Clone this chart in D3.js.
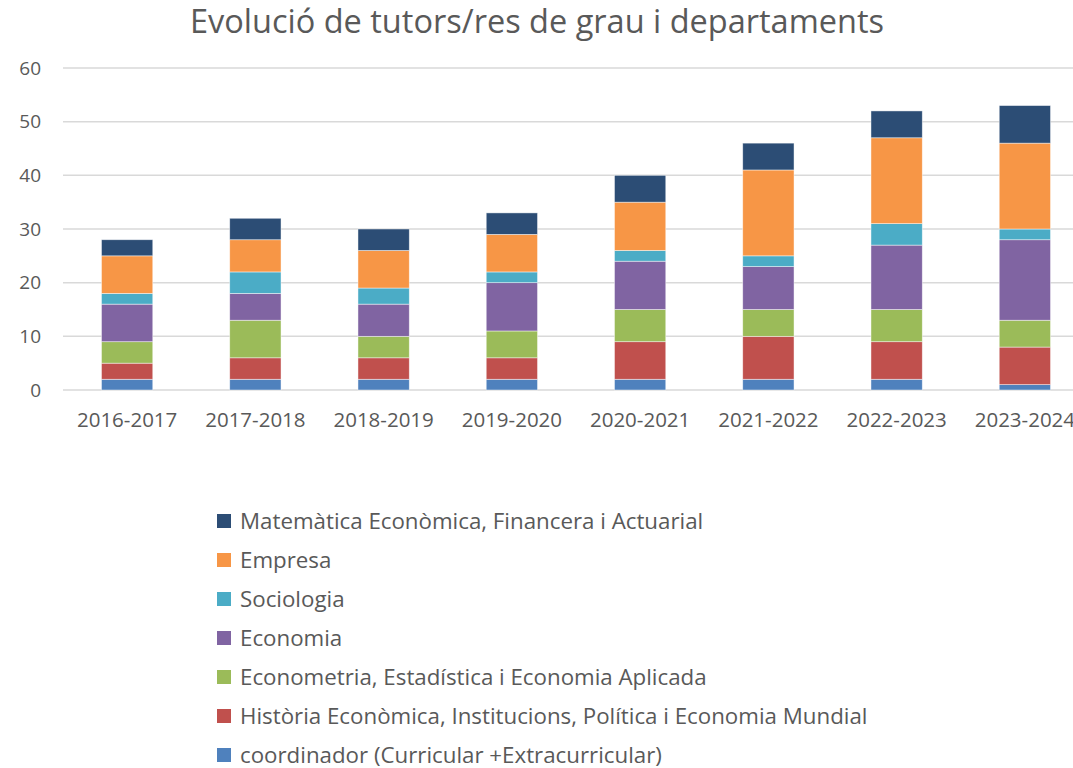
<!DOCTYPE html>
<html>
<head>
<meta charset="utf-8">
<script src="https://cdn.jsdelivr.net/npm/d3@7"></script>
<style>
  body { margin: 0; background: #fff; }
  svg { display: block; font-family: "Open Sans", Lato, sans-serif; }
</style>
</head>
<body>
<div id="wrapper"></div>
<script>
// data
const years = ["2016-2017", "2017-2018", "2018-2019", "2019-2020", "2020-2021", "2021-2022", "2022-2023", "2023-2024"]
const seriesNames = [
  "coordinador (Curricular +Extracurricular)",
  "Història Econòmica, Institucions, Política i Economia Mundial",
  "Econometria, Estadística i Economia Aplicada",
  "Economia",
  "Sociologia",
  "Empresa",
  "Matemàtica Econòmica, Financera i Actuarial",
]
const coordinador = [2, 2, 2, 2, 2, 2, 2, 1]
const historia = [3, 4, 4, 4, 7, 8, 7, 7]
const econometria = [4, 7, 4, 5, 6, 5, 6, 5]
const economia = [7, 5, 6, 9, 9, 8, 12, 15]
const sociologia = [2, 4, 3, 2, 2, 2, 4, 2]
const empresa = [7, 6, 7, 7, 9, 16, 16, 16]
const matematica = [3, 4, 4, 4, 5, 5, 5, 7]
const colors = ["#4f81bd", "#c0504d", "#9bbb59", "#8064a2", "#4bacc6", "#f79646", "#2c4d75"]
const yTicks = [0, 10, 20, 30, 40, 50, 60]

const seriesValues = [coordinador, historia, econometria, economia, sociologia, empresa, matematica]
const dataset = years.map((y, i) => {
  const row = { year: y }
  seriesNames.forEach((name, s) => row[name] = seriesValues[s][i])
  return row
})

const width = 1073
const height = 768
const margin = { top: 68, left: 63, bottom: 378 }
const plotRight = 1089

const wrapper = d3.select("#wrapper")
  .append("svg")
    .attr("width", width)
    .attr("height", height)

const xScale = d3.scaleBand()
  .domain(years)
  .range([margin.left, plotRight])
  .paddingInner(0.6)
  .paddingOuter(0.3)

const yScale = d3.scaleLinear()
  .domain([0, 60])
  .range([height - margin.bottom, margin.top])

// gridlines
wrapper.append("g")
  .selectAll("line")
  .data(yTicks)
  .join("line")
    .attr("x1", margin.left)
    .attr("x2", plotRight)
    .attr("y1", d => yScale(d))
    .attr("y2", d => yScale(d))
    .attr("stroke", "#d9d9d9")
    .attr("stroke-width", 1.5)

// y labels
wrapper.append("g")
  .selectAll("text")
  .data(yTicks)
  .join("text")
    .attr("x", 41)
    .attr("y", d => yScale(d))
    .attr("dy", "0.35em")
    .attr("text-anchor", "end")
    .attr("font-size", 19)
    .attr("fill", "#595959")
    .text(d => d)

// stacked bars
const stack = d3.stack().keys(seriesNames)(dataset)

wrapper.append("g")
  .selectAll("g")
  .data(stack)
  .join("g")
    .attr("fill", (d, i) => colors[i])
  .selectAll("rect")
  .data(d => d)
  .join("rect")
    .attr("x", d => xScale(d.data.year))
    .attr("width", xScale.bandwidth())
    .attr("y", d => yScale(d[1]))
    .attr("height", d => yScale(d[0]) - yScale(d[1]))
    .attr("stroke", "#fff")
    .attr("stroke-opacity", 0.6)
    .attr("stroke-width", 0.75)

// x labels
wrapper.append("g")
  .selectAll("text")
  .data(years)
  .join("text")
    .attr("x", d => xScale(d) + xScale.bandwidth() / 2)
    .attr("y", 420)
    .attr("dy", "0.35em")
    .attr("text-anchor", "middle")
    .attr("font-size", 20.5)
    .attr("fill", "#595959")
    .text(d => d)

// title
wrapper.append("text")
  .attr("x", 537)
  .attr("y", 22)
  .attr("dy", "0.35em")
  .attr("text-anchor", "middle")
  .attr("font-size", 32.5)
  .attr("fill", "#595959")
  .text("Evolució de tutors/res de grau i departaments")

// legend, top to bottom in reverse stack order
const legendItems = seriesNames.map((name, i) => ({ name, color: colors[i] })).reverse()
const legend = wrapper.append("g")
  .selectAll("g")
  .data(legendItems)
  .join("g")
    .attr("transform", (d, i) => `translate(217, ${521 + i * 39})`)

legend.append("rect")
  .attr("x", 0)
  .attr("y", -7)
  .attr("width", 14)
  .attr("height", 14)
  .attr("fill", d => d.color)

legend.append("text")
  .attr("x", 23)
  .attr("y", 0)
  .attr("dy", "0.35em")
  .attr("font-size", 22.3)
  .attr("fill", "#595959")
  .text(d => d.name)
</script>
</body>
</html>
